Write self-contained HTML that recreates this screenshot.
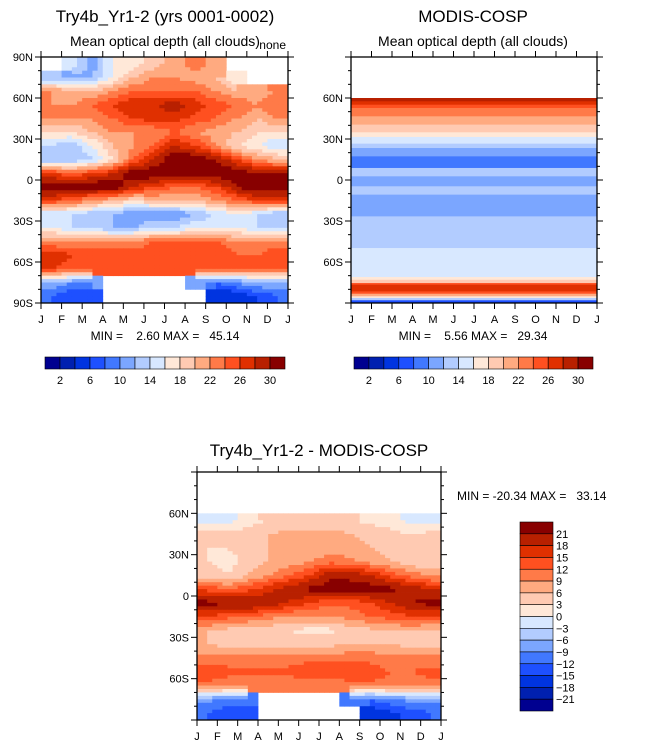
<!DOCTYPE html>
<html><head><meta charset="utf-8"><style>
body{margin:0;background:#fff;width:646px;height:751px;overflow:hidden}
svg text{font-family:"Liberation Sans",sans-serif;fill:#000}
</style></head><body>
<svg id="s" width="646" height="751" xmlns="http://www.w3.org/2000/svg">
<text x="165" y="22" font-size="17" text-anchor="middle">Try4b_Yr1-2 (yrs 0001-0002)</text>
<text x="165" y="46" font-size="14" text-anchor="middle">Mean optical depth (all clouds)</text>
<text x="286" y="49" font-size="12" text-anchor="end">none</text>
<text x="473" y="22" font-size="17" text-anchor="middle">MODIS-COSP</text>
<text x="473" y="46" font-size="14" text-anchor="middle">Mean optical depth (all clouds)</text>
<text x="319" y="456" font-size="17" text-anchor="middle">Try4b_Yr1-2 - MODIS-COSP</text>
<text x="165" y="340" font-size="12" text-anchor="middle" xml:space="preserve">MIN =    2.60 MAX =   45.14</text>
<text x="473" y="340" font-size="12" text-anchor="middle" xml:space="preserve">MIN =    5.56 MAX =   29.34</text>
<text x="457" y="500" font-size="12" xml:space="preserve">MIN = -20.34 MAX =   33.14</text>
</svg>
<script>
const months=['J','F','M','A','M','J','J','A','S','O','N','D','J'];
const latLabels=['90N','60N','30N','0','30S','60S','90S'];
const absColors=['#000090','#0020b0','#0034e0','#1e50ff','#4178ff','#7ba6ff','#b2ccff','#d8e8ff','#ffe8d8','#ffcab2','#ffaa80','#ff7a48','#ff5020','#e03000','#b82000','#880000'];
const absTicks=[2,6,10,14,18,22,26,30];
const diffTicks=[21,18,15,12,9,6,3,0,-3,-6,-9,-12,-15,-18,-21];
const N=null;
// model optical depth, rows 90N..90S in 10deg bands, columns Jan..Dec
const modelTau=[
[N,15,11,16,17,19,21,23,21,N,N,N],
[12,11,12,16,20,22,22,21,20,16,N,N],
[22,20,20,22,24,24,24,24,22,20,20,22],
[22,22,24,26,28,28,29,27,25,24,22,24],
[22,22,22,24,26,27,27,25,24,22,20,22],
[18,18,20,22,22,22,24,22,21,20,18,18],
[14,12,16,20,22,24,28,26,22,18,16,14],
[12,12,14,18,24,28,32,32,30,26,22,20],
[26,24,26,28,32,32,32,32,32,32,30,30],
[32,32,32,32,28,26,24,24,26,30,32,32],
[26,24,22,20,18,20,20,20,22,24,26,26],
[14,14,12,12,10,10,10,12,14,16,14,12],
[16,14,14,12,12,14,14,16,16,16,14,14],
[22,22,22,22,22,24,24,24,24,22,22,22],
[28,26,26,26,26,26,26,26,26,24,24,26],
[26,24,24,24,24,24,24,24,24,24,24,24],
[12,10,10,N,N,N,N,10,8,10,12,12],
[8,6,6,N,N,N,N,N,4,4,6,8]];
// MODIS zonal profile: band bottom latitude and value
const modisLatBottom=[60,57.6,55.1,52.7,46.6,40.5,34.9,31.5,26.6,23.4,17.3,8.8,2.7,-4.6,-10.7,-26.6,-49.8,-71,-73,-75.4,-76.6,-81.5,-83.2,-85.1,-86.3,-88,-89.5,-90];
const modisTau=[N,29,27,25,23,21,19,17,15,13,11,9,13,11,13,11,13,15,17,19,25,27,25,21,17,13,7,5];
// difference, rows 90N..90S
const diffTau=[
[N,N,N,N,N,N,N,N,N,N,N,N],
[N,N,N,N,N,N,N,N,N,N,N,N],
[N,N,N,N,N,N,N,N,N,N,N,N],
[-2,-1,1,3,3,4,4,3,2,1,-1,-2],
[4,4,5,6,7,7,7,6,5,4,3,4],
[3,3,4,6,6,6,7,7,6,5,3,3],
[3,2,4,6,7,9,11,10,8,6,4,3],
[4,3,6,9,12,15,20,20,18,14,11,8],
[14,12,14,17,20,22,23,23,23,22,20,18],
[22,22,22,21,18,15,13,13,15,18,21,22],
[15,13,12,10,9,9,9,10,12,13,15,15],
[6,5,4,4,3,2,2,4,5,6,6,5],
[6,5,5,4,4,5,5,6,6,6,5,5],
[10,10,10,10,10,11,11,11,11,10,10,10],
[15,13,13,13,13,14,14,14,14,12,12,13],
[11,10,10,10,10,10,10,11,11,11,10,11],
[-8,-10,-10,N,N,N,N,-10,-12,-10,-8,-8],
[-12,-14,-14,N,N,N,N,N,-18,-16,-14,-12]];

const S=document.getElementById('s');
const NS='http://www.w3.org/2000/svg';
function el(t,a,p){const e=document.createElementNS(NS,t);for(const k in a)e.setAttribute(k,a[k]);(p||S).appendChild(e);return e;}
function absLevel(v){return Math.max(0,Math.min(15,Math.floor(v/2)));}
function diffLevel(v){return Math.max(0,Math.min(15,Math.floor((v+24)/3)));}
function sample(grid,fr,fc){
  const R=grid.length,C=grid[0].length;
  const nr=Math.min(R-1,Math.max(0,Math.floor(fr+0.5))),nc=Math.min(C-1,Math.max(0,Math.floor(fc+0.5)));
  if(grid[nr][nc]===null)return null;
  const r0=Math.max(0,Math.min(R-1,Math.floor(fr))),r1=Math.min(R-1,r0+1);
  const c0=Math.max(0,Math.min(C-1,Math.floor(fc))),c1=Math.min(C-1,c0+1);
  const tr=Math.max(0,Math.min(1,fr-r0)),tc=Math.max(0,Math.min(1,fc-c0));
  const a=grid[r0][c0],b=grid[r0][c1],c=grid[r1][c0],d=grid[r1][c1];
  if([a,b,c,d].some(v=>v===null))return grid[nr][nc];
  return (a*(1-tc)+b*tc)*(1-tr)+(c*(1-tc)+d*tc)*tr;
}
function drawGrid(grid,box,levelFn,name){
  const g=el('g',{});
  
  
  const R=grid.length,C=grid[0].length,sub=4;
  const xs=v=>box.x+v*box.w/(C*sub), ys=v=>box.y+v*box.h/(R*sub);
  for(let i=0;i<R*sub;i++)for(let j=0;j<C*sub;j++){
    const fr=(i+0.5)/sub-0.5, fc=(j+0.5)/sub-0.5;
    const v=sample(grid,fr,fc); if(v===null)continue;
    const r=el('rect',{x:xs(j).toFixed(2),y:ys(i).toFixed(2),width:(box.w/(C*sub)+0.4).toFixed(2),height:(box.h/(R*sub)+0.4).toFixed(2),fill:absColors[levelFn(v)]},g);
    
    
  }
}
function drawProfile(box){
  const g=el('g',{});
  
  
  const yl=lat=>box.y+(90-lat)*box.h/180;
  let top=90;
  for(let i=0;i<modisLatBottom.length;i++){
    const b=modisLatBottom[i];
    if(modisTau[i]!==null){
      const r=el('rect',{x:box.x,y:yl(top),width:box.w,height:yl(b)-yl(top)+0.3,fill:absColors[absLevel(modisTau[i])]},g);
      
      
    }
    top=b;
  }
}
function axes(box,showPoles,pfx){
  const g=el('g',{stroke:'#000','stroke-width':1,fill:'none'});
  
  
  el('rect',{x:box.x,y:box.y,width:box.w,height:box.h,'stroke-width':1.3},g);
  for(let m=0;m<13;m++){
    const x=box.x+m*box.w/12;
    el('line',{x1:x,x2:x,y1:box.y,y2:box.y-6},g);
    el('line',{x1:x,x2:x,y1:box.y+box.h,y2:box.y+box.h+6},g);
    const t=el('text',{x:x,y:box.y+box.h+20,'font-size':11,'text-anchor':'middle',stroke:'none'});
    t.textContent=months[m];
    
    
  }
  for(let k=0;k<=18;k++){
    const y=box.y+k*box.h/18, major=k%3===0, L=major?6:3;
    el('line',{x1:box.x,x2:box.x-L,y1:y,y2:y},g);
    el('line',{x1:box.x+box.w,x2:box.x+box.w+L,y1:y,y2:y},g);
    if(major){
      const li=k/3;
      if(!showPoles&&(li===0||li===6))continue;
      const t=el('text',{x:box.x-8,y:y+4,'font-size':11,'text-anchor':'end',stroke:'none'});
      t.textContent=latLabels[li];
      
      
    }
  }
}
function hbar(x,y,w,h,pfx){
  const g=el('g',{});
  
  
  const bw=w/16;
  absColors.forEach((c,i)=>{const r=el('rect',{x:x+i*bw,y:y,width:bw,height:h,fill:c,stroke:'#000','stroke-width':0.6},g);
    });
  absTicks.forEach((v,i)=>{const t=el('text',{x:x+(2*i+1)*bw,y:y+h+15,'font-size':11,'text-anchor':'middle'},g);
    t.textContent=v;});
}
const b1={x:41,y:57,w:247,h:246},b2={x:351,y:57,w:246,h:246},b3={x:197,y:472,w:244,h:248};
drawGrid(modelTau,b1,absLevel,'model-contours');
drawProfile(b2);
drawGrid(diffTau,b3,diffLevel,'difference-contours');
axes(b1,true,'panel1');axes(b2,false,'panel2');axes(b3,false,'panel3');
hbar(45,357,240,12,'panel1');hbar(354,357,239,12,'panel2');
(function(){
  const g=el('g',{});
  
  
  const x=520,y=522,w=33,bh=189/16;
  for(let i=0;i<16;i++){const r=el('rect',{x:x,y:y+i*bh,width:w,height:bh,fill:absColors[15-i],stroke:'#000','stroke-width':0.6},g);
    }
  diffTicks.forEach((v,i)=>{const t=el('text',{x:556,y:y+(i+1)*bh+4,'font-size':11},g);
    t.textContent=v<0?'\u2212'+(-v):String(v);});
})();
</script>
</body></html>
